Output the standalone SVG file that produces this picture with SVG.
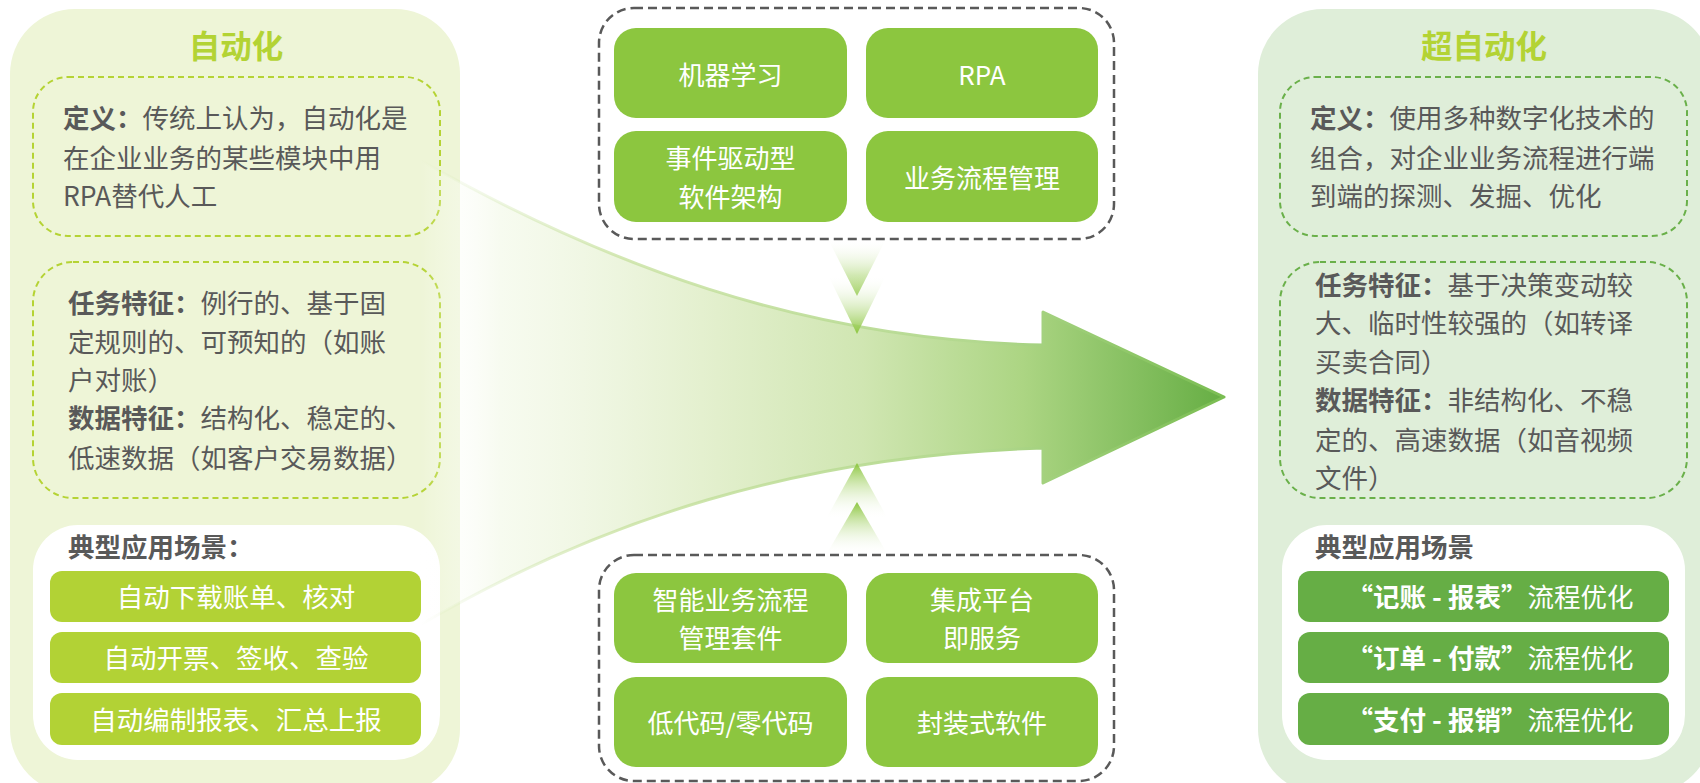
<svg xmlns="http://www.w3.org/2000/svg" width="1700" height="783" viewBox="0 0 1700 783">
<defs>
<linearGradient id="arrowFill" gradientUnits="userSpaceOnUse" x1="420" y1="0" x2="1224" y2="0">
<stop offset="0" stop-color="#ffffff" stop-opacity="0"/>
<stop offset="0.1" stop-color="#f5faec" stop-opacity="0.8"/>
<stop offset="0.35" stop-color="#e4f0cf"/>
<stop offset="0.55" stop-color="#d0e6b2"/>
<stop offset="0.75" stop-color="#acd583"/>
<stop offset="1" stop-color="#66ae44"/>
</linearGradient>
<linearGradient id="arrowStroke" gradientUnits="userSpaceOnUse" x1="420" y1="0" x2="1224" y2="0">
<stop offset="0" stop-color="#c9e2a2" stop-opacity="0"/>
<stop offset="0.25" stop-color="#c9e2a2" stop-opacity="0.8"/>
<stop offset="0.7" stop-color="#b2d88e"/>
<stop offset="1" stop-color="#7abd52"/>
</linearGradient>
<linearGradient id="triDown" x1="0" y1="0" x2="0" y2="1">
<stop offset="0" stop-color="#ffffff" stop-opacity="0"/>
<stop offset="1" stop-color="#8cc63f"/>
</linearGradient>
<linearGradient id="triUp" x1="0" y1="0" x2="0" y2="1">
<stop offset="0" stop-color="#8cc63f"/>
<stop offset="1" stop-color="#ffffff" stop-opacity="0"/>
</linearGradient>
</defs>
<style>
text { font-family: "Noto Sans CJK SC", "Noto Sans", sans-serif; }
.body { font-size: 26.5px; fill: #595959; }
.b { font-weight: 700; }
.title { font-size: 31.5px; font-weight: 700; fill: #b3d334; text-anchor: middle; }
.btn { font-size: 26.5px; fill: #ffffff; text-anchor: middle; }
.ctr { font-size: 26px; fill: #ffffff; text-anchor: middle; }
.dashY { fill: none; stroke: #b5d334; stroke-width: 2; stroke-dasharray: 6 4; }
.dashG { fill: none; stroke: #6ab04a; stroke-width: 2; stroke-dasharray: 6 4; }
.dashK { fill: none; stroke: #595959; stroke-width: 2.5; stroke-dasharray: 9 5; }
.barY { fill: #b2d235; }
.barG { fill: #66ae45; }
.cbox { fill: #8cc63f; }
</style>

<g id="left-panel">
<rect x="10" y="9" width="450" height="785" rx="65" fill="#eef5d7"/>
<text class="title" x="236" y="58">自动化</text>
<g id="left-definition">
<rect class="dashY" x="33" y="77" width="407" height="159" rx="35"/>
<text class="body" x="63" y="128"><tspan class="b">定义：</tspan>传统上认为，自动化是</text>
<text class="body" x="63" y="168">在企业业务的某些模块中用</text>
<text class="body" x="63" y="206">RPA替代人工</text>
</g>
<g id="left-features">
<rect class="dashY" x="33" y="262" width="407" height="236" rx="40"/>
<text class="body" x="68" y="313"><tspan class="b">任务特征：</tspan>例行的、基于固</text>
<text class="body" x="68" y="352">定规则的、可预知的（如账</text>
<text class="body" x="68" y="390">户对账）</text>
<text class="body" x="68" y="428"><tspan class="b">数据特征：</tspan>结构化、稳定的、</text>
<text class="body" x="68" y="468">低速数据（如客户交易数据）</text>
</g>
<g id="left-scenes">
<rect x="33" y="525" width="407" height="235" rx="45" fill="#ffffff"/>
<text class="body b" x="68" y="557">典型应用场景：</text>
<rect class="barY" x="50" y="571" width="371" height="51" rx="12"/>
<text class="btn" x="236" y="607">自动下载账单、核对</text>
<rect class="barY" x="50" y="632" width="371" height="51" rx="12"/>
<text class="btn" x="236" y="668">自动开票、签收、查验</text>
<rect class="barY" x="50" y="693" width="371" height="52" rx="12"/>
<text class="btn" x="236" y="730">自动编制报表、汇总上报</text>
</g>
</g>

<g id="right-panel">
<rect x="1258" y="9" width="454" height="785" rx="65" fill="#dfeed9"/>
<text class="title" x="1484" y="58">超自动化</text>
<g id="right-definition">
<rect class="dashG" x="1280" y="77" width="407" height="159" rx="35"/>
<text class="body" x="1310" y="128"><tspan class="b">定义：</tspan>使用多种数字化技术的</text>
<text class="body" x="1310" y="168">组合，对企业业务流程进行端</text>
<text class="body" x="1310" y="206">到端的探测、发掘、优化</text>
</g>
<g id="right-features">
<rect class="dashG" x="1280" y="262" width="407" height="236" rx="40"/>
<text class="body" x="1315" y="295"><tspan class="b">任务特征：</tspan>基于决策变动较</text>
<text class="body" x="1315" y="333">大、临时性较强的（如转译</text>
<text class="body" x="1315" y="372">买卖合同）</text>
<text class="body" x="1315" y="410"><tspan class="b">数据特征：</tspan>非结构化、不稳</text>
<text class="body" x="1315" y="450">定的、高速数据（如音视频</text>
<text class="body" x="1315" y="488">文件）</text>
</g>
<g id="right-scenes">
<rect x="1282" y="525" width="403" height="235" rx="45" fill="#ffffff"/>
<text class="body b" x="1315" y="557">典型应用场景</text>
<rect class="barG" x="1298" y="571" width="371" height="51" rx="12"/>
<text class="btn" x="1490" y="607"><tspan class="b">“记账 - 报表”</tspan>流程优化</text>
<rect class="barG" x="1298" y="632" width="371" height="51" rx="12"/>
<text class="btn" x="1490" y="668"><tspan class="b">“订单 - 付款”</tspan>流程优化</text>
<rect class="barG" x="1298" y="693" width="371" height="52" rx="12"/>
<text class="btn" x="1490" y="730"><tspan class="b">“支付 - 报销”</tspan>流程优化</text>
</g>
</g>

<g id="connectors">
<path d="M 420 160 C 600 262, 800 340, 1043 345 L 1043 312 L 1224 397 L 1043 483 L 1043 448 C 800 455, 600 520, 420 625 Z" fill="url(#arrowFill)" stroke="url(#arrowStroke)" stroke-width="3" stroke-linejoin="round"/>
<polygon points="828,239 886,239 857,296" fill="url(#triDown)"/>
<polygon points="828,275 886,275 857,334" fill="url(#triDown)"/>
<polygon points="857,463 888,519 826,519" fill="url(#triUp)"/>
<polygon points="857,502 888,555 826,555" fill="url(#triUp)"/>
</g>

<g id="top-tech">
<rect class="dashK" x="599" y="8" width="515" height="231" rx="35"/>
<g id="ml"><rect class="cbox" x="614" y="28" width="233" height="90" rx="22"/><text class="ctr" x="730.5" y="85">机器学习</text></g>
<g id="rpa"><rect class="cbox" x="866" y="28" width="232" height="90" rx="22"/><text class="ctr" x="982" y="85">RPA</text></g>
<g id="eda"><rect class="cbox" x="614" y="131" width="233" height="91" rx="22"/><text class="ctr" x="730.5" y="168">事件驱动型</text><text class="ctr" x="730.5" y="207">软件架构</text></g>
<g id="bpm"><rect class="cbox" x="866" y="131" width="232" height="91" rx="22"/><text class="ctr" x="982" y="188">业务流程管理</text></g>
</g>

<g id="bottom-tech">
<rect class="dashK" x="599" y="555" width="515" height="226" rx="35"/>
<g id="ibpms"><rect class="cbox" x="614" y="573" width="233" height="90" rx="22"/><text class="ctr" x="730.5" y="610">智能业务流程</text><text class="ctr" x="730.5" y="648">管理套件</text></g>
<g id="ipaas"><rect class="cbox" x="866" y="573" width="232" height="90" rx="22"/><text class="ctr" x="982" y="610">集成平台</text><text class="ctr" x="982" y="648">即服务</text></g>
<g id="lowcode"><rect class="cbox" x="614" y="677" width="233" height="90" rx="22"/><text class="ctr" x="730.5" y="733">低代码/零代码</text></g>
<g id="packaged"><rect class="cbox" x="866" y="677" width="232" height="90" rx="22"/><text class="ctr" x="982" y="733">封装式软件</text></g>
</g>
</svg>
